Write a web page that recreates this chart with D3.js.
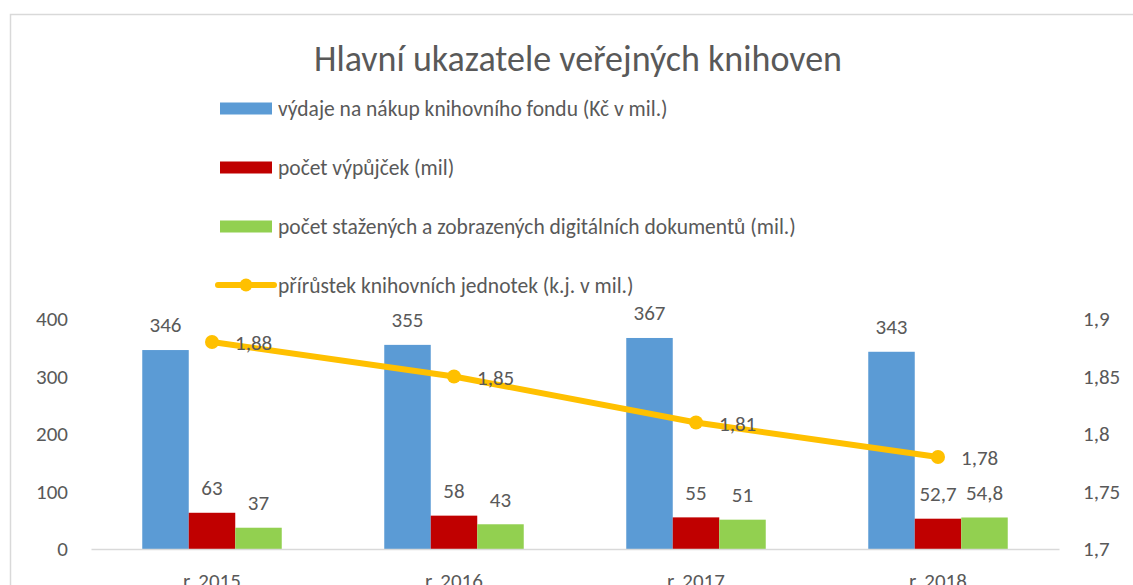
<!DOCTYPE html>
<html>
<head>
<meta charset="utf-8">
<script src="https://cdn.jsdelivr.net/npm/d3@7"></script>
<style>
  body { margin: 0; background: white; }
  svg { display: block; font-family: Calibri, Carlito, Lato, sans-serif; }
</style>
</head>
<body>
<svg id="chart" width="1133" height="585"></svg>
<script>
// data
var categories = ["r. 2015", "r. 2016", "r. 2017", "r. 2018"];
var vydaje = [346, 355, 367, 343];        // výdaje na nákup knihovního fondu
var vypujcky = [63, 58, 55, 52.7];        // počet výpůjček
var digitalni = [37, 43, 51, 54.8];       // stažené a zobrazené dokumenty
var prirustek = [1.88, 1.85, 1.81, 1.78]; // přírůstek knihovních jednotek
var leftTicks = [0, 100, 200, 300, 400];
var rightTicks = [1.7, 1.75, 1.8, 1.85, 1.9];

var seriesNames = [
  "výdaje na nákup knihovního fondu (Kč v mil.)",
  "počet výpůjček (mil)",
  "počet stažených a zobrazených digitálních dokumentů (mil.)",
  "přírůstek knihovních jednotek (k.j. v mil.)"
];
var colors = ["#5B9BD5", "#C00000", "#92D050", "#FFC000"];
var textColor = "#595959";
var lineColor = "#D9D9D9";

var cz = d3.formatLocale({decimal: ",", thousands: " ", grouping: [3], currency: ["", " Kč"]});
var fmt = cz.format("~f");

var svg = d3.select("#chart");

// frame of the chart (runs past the right and bottom edge)
svg.append("rect")
  .attr("x", 10.5).attr("y", 14.5)
  .attr("width", 1200).attr("height", 700)
  .attr("fill", "white")
  .attr("stroke", lineColor).attr("stroke-width", 1.5);

// scales
var x = d3.scaleBand().domain(categories).range([91, 1059])
  .paddingInner(0.4236).paddingOuter(0.2118);
var xIn = d3.scaleBand().domain([0, 1, 2]).range([0, x.bandwidth()]);
var yLeft = d3.scaleLinear().domain([0, 400]).range([549, 319]);
var yRight = d3.scaleLinear().domain([1.7, 1.9]).range([549, 319]);

// title
svg.append("text")
  .attr("x", 578).attr("y", 71)
  .attr("text-anchor", "middle")
  .attr("fill", textColor)
  .style("font-size", "36px")
  .text("Hlavní ukazatele veřejných knihoven");

// legend
var legendY = [108.5, 167.5, 226.5, 285];
var legend = svg.append("g").attr("class", "legend");
seriesNames.forEach(function(name, i) {
  var g = legend.append("g").attr("transform", "translate(0," + legendY[i] + ")");
  if (i < 3) {
    g.append("rect").attr("x", 220).attr("y", -6).attr("width", 52).attr("height", 12)
      .attr("fill", colors[i]);
  } else {
    g.append("line").attr("x1", 218).attr("x2", 274).attr("y1", 0).attr("y2", 0)
      .attr("stroke", colors[i]).attr("stroke-width", 6).attr("stroke-linecap", "round");
    g.append("circle").attr("cx", 246).attr("cy", 0).attr("r", 6.5).attr("fill", colors[i]);
  }
  g.append("text").attr("x", 278).attr("y", 0).attr("dy", "0.35em")
    .attr("fill", textColor).style("font-size", "21.5px")
    .text(name);
});

// axes
var axisFont = "21px";
var leftAxis = svg.append("g").attr("transform", "translate(91,0)")
  .call(d3.axisLeft(yLeft).tickValues(leftTicks).tickSize(0).tickPadding(23).tickFormat(fmt));
var rightAxis = svg.append("g").attr("transform", "translate(1059,0)")
  .call(d3.axisRight(yRight).tickValues(rightTicks).tickSize(0).tickPadding(24).tickFormat(fmt));
[leftAxis, rightAxis].forEach(function(a) {
  a.attr("font-family", null);
  a.select(".domain").remove();
  a.selectAll("text").attr("fill", textColor).style("font-size", axisFont);
});

// bars
var barData = [vydaje, vypujcky, digitalni];
var bars = svg.append("g").attr("class", "bars");
barData.forEach(function(values, s) {
  bars.selectAll(".bar" + s)
    .data(values)
    .join("rect")
    .attr("class", "bar" + s)
    .attr("x", function(d, i) { return x(categories[i]) + xIn(s); })
    .attr("width", xIn.bandwidth())
    .attr("y", function(d) { return yLeft(d); })
    .attr("height", function(d) { return yLeft(0) - yLeft(d); })
    .attr("fill", colors[s]);
  bars.selectAll(".lab" + s)
    .data(values)
    .join("text")
    .attr("class", "lab" + s)
    .attr("x", function(d, i) { return x(categories[i]) + xIn(s) + xIn.bandwidth() / 2; })
    .attr("y", function(d) { return yLeft(d) - 25; })
    .attr("dy", "0.35em")
    .attr("text-anchor", "middle")
    .attr("fill", textColor)
    .style("font-size", axisFont)
    .text(function(d) { return fmt(d); });
});

// bottom axis (category labels and base line)
var bottomAxis = svg.append("g").attr("transform", "translate(0,549)")
  .call(d3.axisBottom(x).tickSize(0).tickSizeOuter(0).tickPadding(24));
bottomAxis.attr("font-family", null);
bottomAxis.select(".domain").attr("stroke", lineColor).attr("stroke-width", 1.5);
bottomAxis.selectAll("text").attr("fill", textColor).style("font-size", axisFont);

// line on the secondary axis
var cx = function(d, i) { return x(categories[i]) + x.bandwidth() / 2; };
var line = d3.line()
  .x(cx)
  .y(function(d) { return yRight(d); });
svg.append("path")
  .datum(prirustek)
  .attr("d", line)
  .attr("fill", "none")
  .attr("stroke", colors[3])
  .attr("stroke-width", 6)
  .attr("stroke-linecap", "round");
svg.selectAll(".pt")
  .data(prirustek)
  .join("circle")
  .attr("class", "pt")
  .attr("cx", cx)
  .attr("cy", function(d) { return yRight(d); })
  .attr("r", 7)
  .attr("fill", colors[3]);
svg.selectAll(".ptlab")
  .data(prirustek)
  .join("text")
  .attr("class", "ptlab")
  .attr("x", function(d, i) { return cx(d, i) + 23; })
  .attr("y", function(d) { return yRight(d) + 1; })
  .attr("dy", "0.35em")
  .attr("fill", textColor)
  .style("font-size", axisFont)
  .text(function(d) { return fmt(d); });
</script>
</body>
</html>
